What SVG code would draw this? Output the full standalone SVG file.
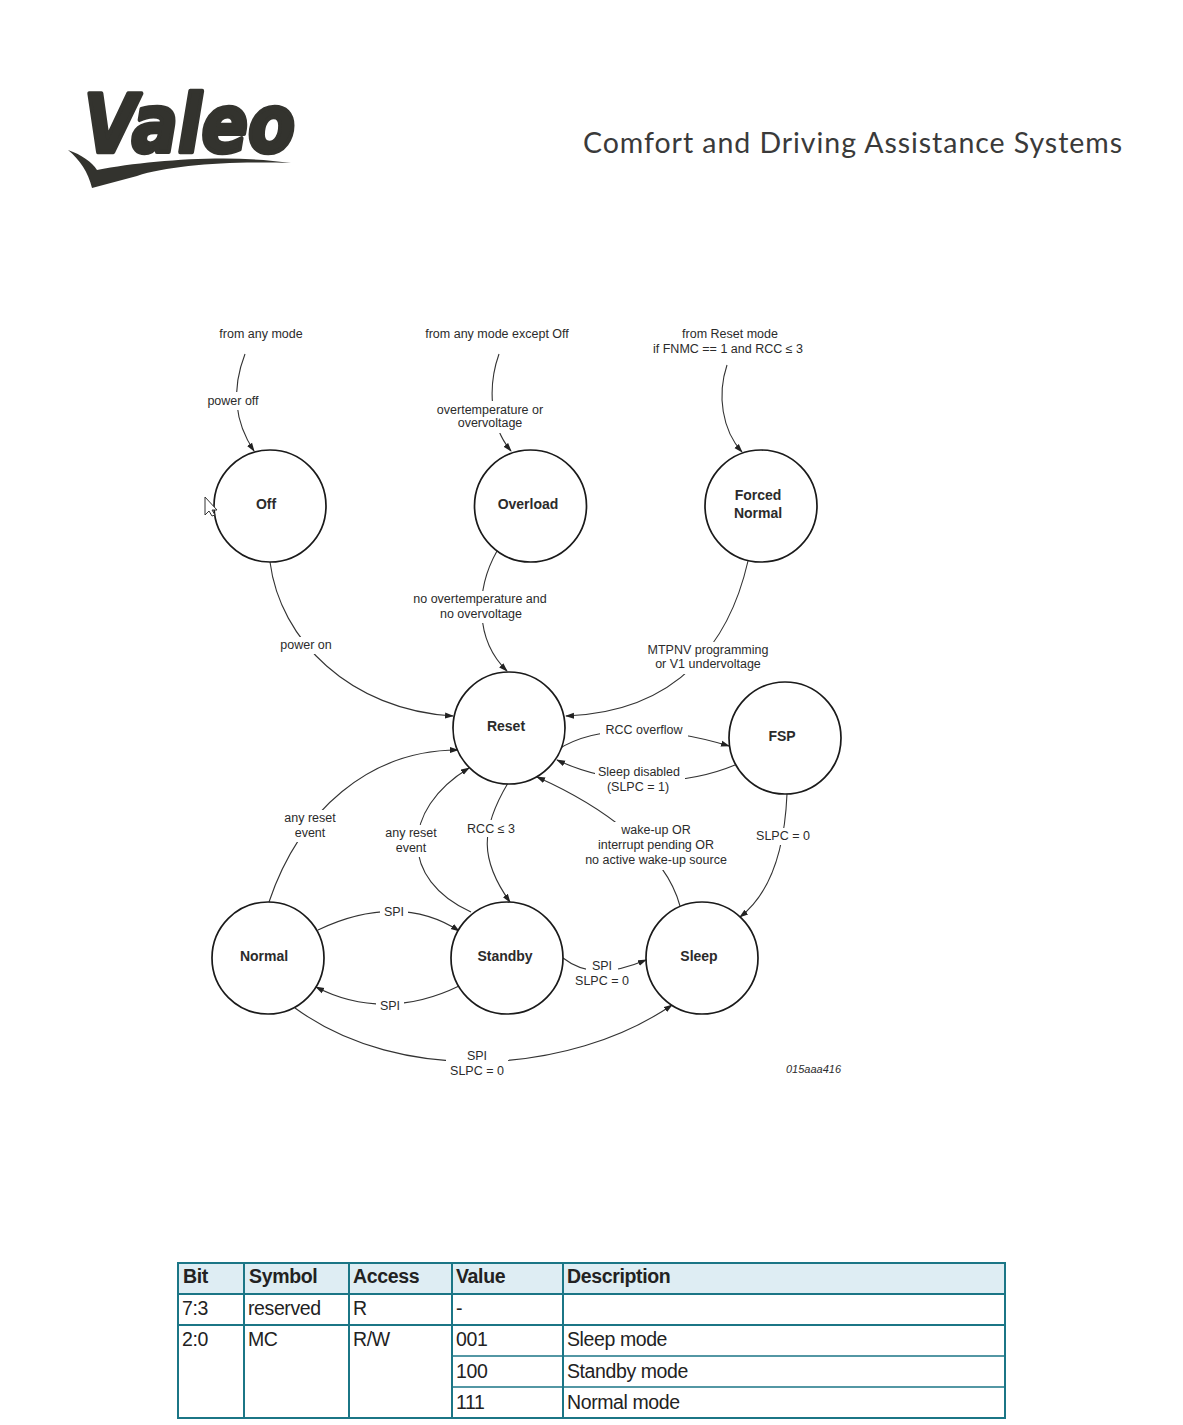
<svg xmlns="http://www.w3.org/2000/svg" width="1183" height="1425" viewBox="0 0 1183 1425">
<style>
text{font-family:"Liberation Sans",Arial,sans-serif;fill:#2b2b2b}
.l{font-size:12.5px;text-anchor:middle}
.n{font-size:14px;font-weight:700;text-anchor:middle}
.c{fill:none;stroke:#333;stroke-width:1.1;marker-end:url(#a)}
.s{fill:#fff;stroke:#1a1a1a;stroke-width:1.7}
.t{font-size:19.5px;fill:#222;letter-spacing:-0.4px}
.h{font-size:19.5px;font-weight:700;fill:#222;letter-spacing:-0.35px}
.b{stroke:#1b7686;stroke-width:2;fill:none}
.b2{stroke:#1b7686;stroke-width:1.5;fill:none}
</style>
<defs><marker id="a" markerWidth="9" markerHeight="7" refX="8" refY="3.5" orient="auto" markerUnits="userSpaceOnUse"><path d="M0 0.5L9 3.5L0 6.5Z" fill="#222"/></marker></defs>
<rect width="1183" height="1425" fill="#fff"/>
<g id="logo">
<text x="84" y="152" style="font-family:'DejaVu Sans',sans-serif;font-weight:700;font-style:italic;font-size:81px;fill:#33332e;stroke:#33332e;stroke-width:4.5;stroke-linejoin:round" textLength="211" lengthAdjust="spacingAndGlyphs">Valeo</text>
<path d="M68 150C82 155 92 162 97 170C150 160 230 154 291 163C230 161 170 165 137 176L92 188C88 172 80 160 68 150Z" fill="#33332e"/>
</g>
<text id="header" x="583" y="153" textLength="539" lengthAdjust="spacing" style="font-family:Lato,sans-serif;font-size:28.5px;fill:#3a3a3a">Comfort and Driving Assistance Systems</text>
<g id="connectors">
<path class="c" d="M245 354C233 385 232 418 254 451"/>
<path class="c" d="M499 354C488 385 489 425 511 451"/>
<path class="c" d="M727 365C717 395 722 430 742 452"/>
<path class="c" d="M270 562C280 640 350 710 453 716"/>
<path class="c" d="M497 551C475 590 475 640 507 671"/>
<path class="c" d="M748 561C730 640 680 712 566 716"/>
<path class="c" d="M557 750C600 722 670 728 729 746"/>
<path class="c" d="M735 765C680 788 610 785 557 760"/>
<path class="c" d="M787 794C785 840 775 890 740 917"/>
<path class="c" d="M680 906C665 850 600 805 537 777"/>
<path class="c" d="M508 783C480 830 480 860 510 902"/>
<path class="c" d="M471 912C400 880 400 810 469 768"/>
<path class="c" d="M269 902C300 810 370 750 458 750"/>
<path class="c" d="M318 930C370 905 420 905 459 931"/>
<path class="c" d="M459 986C410 1010 360 1010 316 987"/>
<path class="c" d="M563 958C585 975 610 975 646 960"/>
<path class="c" d="M295 1008C400 1085 570 1075 672 1005"/>
</g>
<g fill="#fff" stroke="none">
<rect x="204" y="392" width="58" height="18"/><rect x="434" y="401" width="112" height="32"/>
<rect x="276" y="637" width="60" height="17"/><rect x="410" y="591" width="140" height="32"/>
<rect x="644" y="642" width="127" height="32"/><rect x="600" y="722" width="88" height="16"/>
<rect x="595" y="764" width="90" height="32"/><rect x="752" y="828" width="60" height="17"/>
<rect x="583" y="822" width="146" height="48"/><rect x="464" y="820" width="54" height="17"/>
<rect x="383" y="825" width="56" height="32"/><rect x="282" y="810" width="56" height="32"/>
<rect x="380" y="904" width="28" height="16"/><rect x="376" y="998" width="28" height="16"/>
<rect x="586" y="957" width="32" height="16"/><rect x="446" y="1048" width="62" height="32"/>
</g>
<g id="off"><circle class="s" cx="270" cy="506" r="56"/><text class="n" x="266" y="509">Off</text></g>
<g id="overload"><circle class="s" cx="530.5" cy="506" r="56"/><text class="n" x="528" y="509">Overload</text></g>
<g id="forced"><circle class="s" cx="761" cy="506" r="56"/><text class="n" x="758" y="500">Forced</text><text class="n" x="758" y="518">Normal</text></g>
<g id="reset"><circle class="s" cx="509" cy="728" r="56"/><text class="n" x="506" y="731">Reset</text></g>
<g id="fsp"><circle class="s" cx="785" cy="738" r="56"/><text class="n" x="782" y="741">FSP</text></g>
<g id="normal"><circle class="s" cx="268" cy="958" r="56"/><text class="n" x="264" y="961">Normal</text></g>
<g id="standby"><circle class="s" cx="507" cy="958" r="56"/><text class="n" x="505" y="961">Standby</text></g>
<g id="sleep"><circle class="s" cx="702" cy="958" r="56"/><text class="n" x="699" y="961">Sleep</text></g>
<path id="cursor" d="M205 497V515L209 511L212 516L215 515L212 510L217 510Z" fill="#fff" stroke="#333" stroke-width="1"/>
<g id="labels">
<text class="l" x="261" y="338">from any mode</text>
<text class="l" x="497" y="338">from any mode except Off</text>
<text class="l" x="730" y="338">from Reset mode</text>
<text class="l" x="728" y="353">if FNMC == 1 and RCC ≤ 3</text>
<text class="l" x="233" y="405">power off</text>
<text class="l" x="490" y="414">overtemperature or</text><text class="l" x="490" y="427">overvoltage</text>
<text class="l" x="306" y="649">power on</text>
<text class="l" x="480" y="603">no overtemperature and</text><text class="l" x="481" y="618">no overvoltage</text>
<text class="l" x="708" y="654">MTPNV programming</text><text class="l" x="708" y="668">or V1 undervoltage</text>
<text class="l" x="644" y="734">RCC overflow</text>
<text class="l" x="639" y="776">Sleep disabled</text><text class="l" x="638" y="791">(SLPC = 1)</text>
<text class="l" x="783" y="840">SLPC = 0</text>
<text class="l" x="656" y="834">wake-up OR</text><text class="l" x="656" y="849">interrupt pending OR</text><text class="l" x="656" y="864">no active wake-up source</text>
<text class="l" x="491" y="833">RCC ≤ 3</text>
<text class="l" x="411" y="837">any reset</text><text class="l" x="411" y="852">event</text>
<text class="l" x="310" y="822">any reset</text><text class="l" x="310" y="837">event</text>
<text class="l" x="394" y="916">SPI</text><text class="l" x="390" y="1010">SPI</text>
<text class="l" x="602" y="970">SPI</text><text class="l" x="602" y="985">SLPC = 0</text>
<text class="l" x="477" y="1060">SPI</text><text class="l" x="477" y="1075">SLPC = 0</text>
<text x="786" y="1073" style="font-size:11px;font-style:italic">015aaa416</text>
</g>
<g id="table">
<rect x="178" y="1264" width="827" height="30" fill="#deedf3"/>
<path class="b" d="M178 1263H1005V1418H178ZM244 1263V1418M349 1263V1418M452 1263V1418M563 1263V1418M178 1294H1005M178 1325H1005"/>
<path class="b2" d="M452 1356H1005M452 1387H1005"/>
<text class="h" x="183" y="1283">Bit</text><text class="h" x="249" y="1283">Symbol</text><text class="h" x="353" y="1283">Access</text><text class="h" x="456" y="1283">Value</text><text class="h" x="567" y="1283">Description</text>
<text class="t" x="182" y="1315">7:3</text><text class="t" x="248" y="1315">reserved</text><text class="t" x="353" y="1315">R</text><text class="t" x="456" y="1315">-</text>
<text class="t" x="182" y="1346">2:0</text><text class="t" x="248" y="1346">MC</text><text class="t" x="353" y="1346">R/W</text><text class="t" x="456" y="1346">001</text><text class="t" x="567" y="1346">Sleep mode</text>
<text class="t" x="456" y="1378">100</text><text class="t" x="567" y="1378">Standby mode</text>
<text class="t" x="456" y="1409">111</text><text class="t" x="567" y="1409">Normal mode</text>
</g>
</svg>
